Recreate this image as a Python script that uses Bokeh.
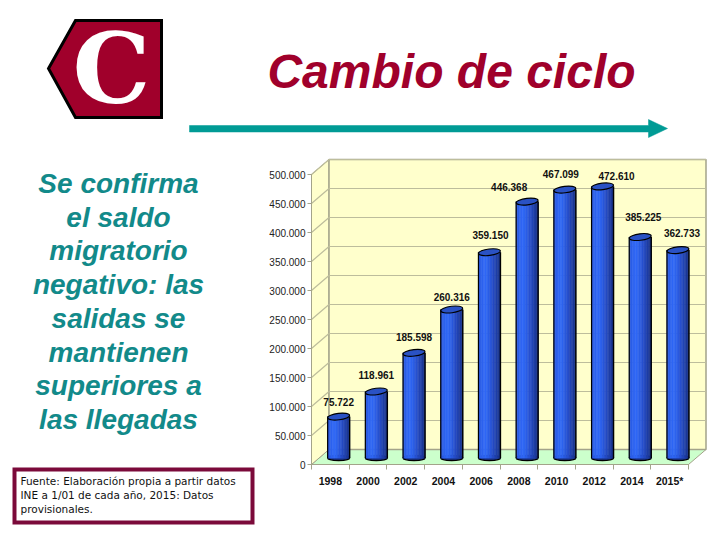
from bokeh.plotting import figure
from bokeh.models import (ColumnDataSource, FixedTicker, Label, PolyAnnotation, Range1d)
from bokeh.core.properties import value
from bokeh.embed import file_html
from bokeh.resources import INLINE
import numpy as np

years = ["1998", "2000", "2002", "2004", "2006", "2008", "2010", "2012", "2014", "2015*"]
migrants = [75722, 118961, 185598, 260316, 359150, 446368, 467099, 472610, 385225, 362733]
y_ticks = [0, 50000, 100000, 150000, 200000, 250000, 300000, 350000, 400000, 450000, 500000]
title = "Cambio de ciclo"
side_lines = ["Se confirma", "el saldo", "migratorio", "negativo: las", "salidas se",
              "mantienen", "superiores a", "las llegadas"]
source_lines = ["Fuente: Elaboración propia a partir datos",
                "INE a 1/01 de cada año, 2015: Datos",
                "provisionales."]

W, H = 720, 540
FL, FB = 311, 464   # pixel of the chart's front-left-bottom corner
PX_PER_CAT = 37.7
PX_PER_VAL = 0.00058
label_dx = [0, 0, 0, 0, 1, -18, -4, 14, 3, 4]
label_dy = [15, 17, 16, 13, 17, 15, 16, 10, 20, 17]

def cat(px):
    return px / PX_PER_CAT

def val(px):
    return px / PX_PER_VAL

p = figure(width=W, height=H, output_backend="svg", toolbar_location=None,
           min_border=0,
           x_range=Range1d(-0.5 - cat(FL), -0.5 + cat(W - FL)),
           y_range=Range1d(-val(H - FB), val(FB)))
p.outline_line_color = None
p.grid.visible = False
p.background_fill_color = "white"
p.border_fill_color = "white"

n = len(years)
x = np.arange(n, dtype=float)
dx, dy = cat(17.5), val(15)
left, right = -0.5, n - 0.5
top = y_ticks[-1]
wall = "#FFFFCC"
grid_c = "#BDBD9C"
edge = "#A3A38A"

# floor and walls
p.patch([left, right, right + dx, left + dx], [0, 0, dy, dy], fill_color="#CCFFCC", line_color=edge, line_width=1)
p.patch([left, left + dx, left + dx, left], [0, dy, top + dy, top], fill_color=wall, line_color=edge, line_width=1)
p.quad(left=left + dx, right=right + dx, bottom=dy, top=top + dy, fill_color=wall, line_color=edge, line_width=1.5)
p.multi_line([[left, left + dx, right + dx] for t in y_ticks[1:]],
             [[t, t + dy, t + dy] for t in y_ticks[1:]], line_color=grid_c, line_width=1.2)

# cylinders
bdx, bdy = cat(8.3), val(4)
bw = cat(22)
strip_cols = ["#2A58E0", "#2C5EE8", "#2E63F0", "#2F66F4", "#3068F6", "#2E64F0", "#2C5FE8",
              "#2A59DE", "#2853D2", "#264CC6", "#2346B8", "#2040AA", "#1C399C", "#18328C"]
m = len(strip_cols)
cx = x + bdx
base = np.full(n, bdy)
tops = np.array(migrants, dtype=float) + bdy
p.ellipse(cx, base + val(2.5), width=22, height=5, width_units="screen", height_units="screen",
          fill_color="#1C3896", line_color="black", line_width=1.3)
for i, c in enumerate(strip_cols):
    l = cx - bw / 2 + bw * i / m
    r = cx - bw / 2 + bw * (i + 1) / m
    p.quad(left=l, right=r, bottom=base + val(2.5), top=tops, fill_color=c, line_color=c, line_width=0.6)
p.segment(cx - bw / 2, base + val(2.5), cx - bw / 2, tops, line_color="black", line_width=1.2)
p.segment(cx + bw / 2, base + val(2.5), cx + bw / 2, tops, line_color="black", line_width=1.4)
p.ellipse(cx, tops, width=22, height=6.5, angle=0.12, width_units="screen", height_units="screen",
          fill_color="#2A52C4", line_color="black", line_width=1.1)

# value labels
labels = [f"{v:,}".replace(",", ".") for v in migrants]
src = ColumnDataSource(dict(x=cx, y=tops, t=labels, ox=label_dx, oy=[-d for d in label_dy]))
p.text("x", "y", text="t", source=src, x_offset="ox", y_offset="oy", text_align="center",
       text_baseline="middle", text_font=value("Liberation Sans"), text_font_size="10px",
       text_font_style="bold", text_color="#111111")

# axes
p.yaxis.fixed_location = left
p.yaxis.ticker = FixedTicker(ticks=y_ticks)
p.yaxis.major_label_overrides = {t: f"{t:,}".replace(",", ".") for t in y_ticks}
p.yaxis.bounds = (0, top)
p.yaxis.axis_line_color = edge
p.yaxis.major_tick_line_color = edge
p.yaxis.major_tick_in = 0
p.yaxis.major_tick_out = 4
p.yaxis.minor_tick_line_color = None
p.yaxis.major_label_standoff = 2
p.yaxis.major_label_text_font = "Liberation Sans"
p.yaxis.major_label_text_font_size = "10px"
p.yaxis.major_label_text_color = "#222222"

p.xaxis.fixed_location = 0
p.xaxis.ticker = FixedTicker(ticks=list(x), minor_ticks=list(x - 0.5) + [n - 0.5])
p.xaxis.major_label_overrides = {float(i): y for i, y in enumerate(years)}
p.xaxis.bounds = (left, right)
p.xaxis.axis_line_color = edge
p.xaxis.major_tick_line_color = None
p.xaxis.minor_tick_line_color = edge
p.xaxis.minor_tick_in = 0
p.xaxis.minor_tick_out = 5
p.xaxis.major_label_standoff = 4
p.xaxis.major_label_text_font = "Liberation Sans"
p.xaxis.major_label_text_font_size = "10.5px"
p.xaxis.major_label_text_font_style = "bold"
p.xaxis.major_label_text_color = "#111111"

def label(txt, px, py, **kw):
    p.add_layout(Label(x=px, y=H - py, x_units="screen", y_units="screen", text=txt, **kw))

def poly(xs, ys, **kw):
    p.add_layout(PolyAnnotation(xs=list(xs), ys=[H - b for b in ys],
                                xs_units="screen", ys_units="screen", **kw))

# logo
poly([75, 161, 161, 75, 48], [20, 20, 117, 117, 68], fill_color="#A0002B", fill_alpha=1,
     line_color="black", line_width=3, line_alpha=1, line_join="miter")
label("C", 111, 68, text_font="DejaVu Serif", text_font_size="98px", text_font_style="bold",
      text_color="white", text_align="center", text_baseline="middle")

# title
label(title, 451, 71, text_font="Liberation Sans", text_font_size="48px", text_font_style="bold italic",
      text_color="#A0002B", text_align="center", text_baseline="middle")

# arrow
poly([189, 648, 648, 667, 648, 648, 189], [125, 125, 119, 128, 137, 131.5, 131.5],
     fill_color="#009B95", fill_alpha=1, line_color="#009B95", line_alpha=1, line_width=0.5,
     line_join="miter")

# side text
for i, s in enumerate(side_lines):
    label(s, 118, 183 + 33.7 * i, text_font="Liberation Sans", text_font_size="28px",
          text_font_style="bold italic", text_color="#128A8A", text_align="center", text_baseline="middle")

# source box
poly([14, 252, 252, 14], [469, 469, 522, 522], fill_color="white", fill_alpha=1,
     line_color="#7B0A3A", line_alpha=1, line_width=4, line_join="miter")
for i, s in enumerate(source_lines):
    label(s, 20, 480 + 14 * i, text_font="DejaVu Sans", text_font_size="10.5px", text_color="#111111",
          text_align="left", text_baseline="middle")

open("out.html", "w").write(file_html(p, INLINE))
